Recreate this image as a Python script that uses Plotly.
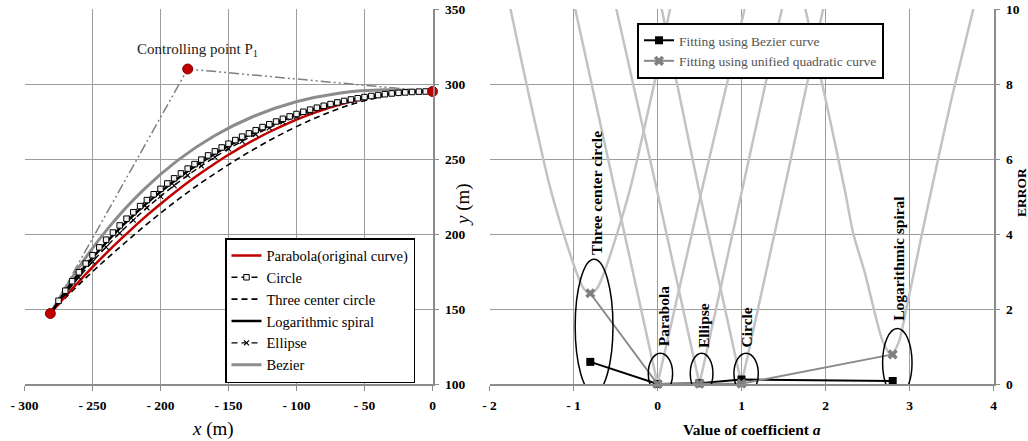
import plotly.graph_objects as go

W, H = 1028, 441

# ---------------- Left panel data (x in m, y in m) ----------------
x_main = [-281, -270, -260, -250, -240, -230, -220, -210, -200, -190, -180, -170, -160, -150,
          -140, -130, -120, -110, -100, -90, -80, -70, -60, -50, -40, -30, -20, -10, 0]
y_parabola = [147.0, 158.4, 168.3, 177.9, 187.1, 195.9, 204.3, 212.4, 220.0, 227.3, 234.3, 240.8, 247.0, 252.8,
              258.3, 263.3, 268.0, 272.3, 276.3, 279.8, 283.0, 285.8, 288.3, 290.3, 292.0, 293.3, 294.3, 294.8, 295.0]
y_three_center = [147.0, 157.4, 166.3, 174.9, 183.1, 191.1, 198.9, 206.6, 213.9, 221.0, 227.8, 234.2, 240.3, 246.2,
                  251.9, 257.2, 262.3, 267.1, 271.6, 275.8, 279.7, 283.2, 286.3, 288.9, 291.1, 292.8, 294.1, 294.7, 295.0]
y_log_spiral = [147.0, 161.3, 173.1, 184.1, 194.2, 203.7, 212.4, 220.6, 228.1, 235.2, 241.8, 247.9, 253.6, 258.8,
                263.7, 268.1, 272.2, 275.9, 279.3, 282.3, 285.0, 287.4, 289.4, 291.1, 292.5, 293.6, 294.4, 294.9, 295.0]
y_ellipse = [147.0, 160.0, 171.1, 181.5, 191.3, 200.6, 209.3, 217.5, 225.1, 232.3, 239.1, 245.4, 251.3, 256.8,
             261.8, 266.5, 270.8, 274.7, 278.3, 281.5, 284.4, 286.9, 289.0, 290.9, 292.4, 293.5, 294.3, 294.8, 295.0]

x_circle = [-281, -275, -270, -265, -260, -255, -250, -245, -240, -235, -230, -225, -220, -215, -210, -205,
            -200, -195, -190, -185, -180, -175, -170, -165, -160, -155, -150, -145, -140, -135, -130, -125,
            -120, -115, -110, -105, -100, -95, -90, -85, -80, -75, -70, -65, -60, -55, -50, -45, -40, -35,
            -30, -25, -20, -15, -10, -5, 0]
y_circle = [147.0, 155.5, 162.2, 168.5, 174.5, 180.3, 185.8, 191.1, 196.2, 201.0, 205.7, 210.2, 214.5, 218.6,
            222.6, 226.5, 230.1, 233.7, 237.1, 240.4, 243.6, 246.6, 249.6, 252.4, 255.1, 257.7, 260.2, 262.6,
            264.9, 267.1, 269.2, 271.3, 273.2, 275.0, 276.8, 278.4, 280.0, 281.5, 282.9, 284.2, 285.5, 286.6,
            287.7, 288.7, 289.7, 290.5, 291.3, 292.0, 292.6, 293.2, 293.7, 294.1, 294.4, 294.7, 294.9, 295.0, 295.0]

x_bezier = [-281, -260.0, -237.4, -213.3, -187.6, -160.3, -131.4, -100.9, -68.8, -35.2, 0]
y_bezier = [147.0, 177.8, 205.1, 228.8, 248.9, 265.5, 278.5, 288.0, 293.9, 296.2, 295.0]

ctrl_x = [-281, -180, 0]
ctrl_y = [147, 310, 295]

left_xticks = [-300, -250, -200, -150, -100, -50, 0]
left_xtext = ["- 300", "- 250", "- 200", "- 150", "- 100", "- 50", "0"]
left_yticks = [100, 150, 200, 250, 300, 350]

# ---------------- Right panel data (coefficient a, ERROR) ----------------
coef = [-0.8, 0.0, 0.5, 1.0, 2.8]
err_bezier = [0.59, 0.0, 0.02, 0.12, 0.08]
err_unified = [2.42, 0.0, 0.01, 0.01, 0.79]

tc_a = [-1.81, -1.75, -1.56, -1.36, -1.27, -1.12, -0.96, -0.88, -0.80, -0.72, -0.64, -0.48, -0.33, -0.24, -0.04, 0.15, 0.21]
tc_e = [10.6, 10.0, 8.0, 6.0, 5.17, 4.02, 2.95, 2.55, 2.42, 2.55, 2.95, 4.02, 5.17, 6.0, 8.0, 10.0, 10.6]
pa_a = [-1.04, -0.98, -0.50, 0.0, 0.52, 1.04, 1.10]
pa_e = [10.6, 10.0, 5.1, 0.0, 5.1, 10.0, 10.6]
el_a = [-0.55, -0.49, 0.0, 0.5, 1.0, 1.48, 1.54]
el_e = [10.6, 10.0, 5.1, 0.0, 5.1, 10.0, 10.6]
ci_a = [-0.01, 0.05, 0.50, 1.0, 1.50, 1.97, 2.03]
ci_e = [10.6, 10.0, 5.1, 0.0, 5.1, 10.0, 10.6]
ls_a = [1.70, 1.76, 2.00, 2.23, 2.33, 2.47, 2.59, 2.68, 2.78, 2.87, 2.95, 3.05, 3.15, 3.26, 3.50, 3.76, 3.82]
ls_e = [10.6, 10.0, 7.6, 5.17, 4.02, 2.95, 1.87, 1.15, 0.79, 1.10, 1.87, 2.95, 4.02, 5.17, 7.6, 10.0, 10.6]

right_xticks = [-2, -1, 0, 1, 2, 3, 4]
right_xtext = ["- 2", "- 1", "0", "1", "2", "3", "4"]

SERIF = "Liberation Serif"
RED = "#c00000"

fig = go.Figure()

# ---- left panel traces ----
fig.add_trace(go.Scatter(x=ctrl_x, y=ctrl_y, mode="lines", showlegend=False,
                         line=dict(color="#7f7f7f", width=1.5, dash="10px,3px,2px,3px,2px,3px"),
                         xaxis="x", yaxis="y", hoverinfo="skip"))
fig.add_trace(go.Scatter(x=x_bezier, y=y_bezier, mode="lines", name="Bezier", legend="legend",
                         line=dict(color="#8c8c8c", width=3, shape="spline"), xaxis="x", yaxis="y",
                         legendrank=6))
fig.add_trace(go.Scatter(x=x_main, y=y_three_center, mode="lines", name="Three center circle", legend="legend",
                         line=dict(color="black", width=1.6, dash="6px,4px", shape="spline"), xaxis="x", yaxis="y",
                         legendrank=3))
fig.add_trace(go.Scatter(x=x_main, y=y_parabola, mode="lines", name="Parabola(original curve)", legend="legend",
                         line=dict(color=RED, width=2.5, shape="spline"), xaxis="x", yaxis="y", legendrank=1))
fig.add_trace(go.Scatter(x=x_main, y=y_ellipse, mode="lines+markers", name="Ellipse", legend="legend",
                         line=dict(color="black", width=1.4, dash="6px,4px", shape="spline"),
                         marker=dict(symbol="x-thin-open", size=5, color="black", line=dict(width=1.2, color="black")),
                         xaxis="x", yaxis="y", legendrank=5))
fig.add_trace(go.Scatter(x=x_main, y=y_log_spiral, mode="lines", name="Logarithmic spiral", legend="legend",
                         line=dict(color="black", width=2.5, shape="spline"), xaxis="x", yaxis="y", legendrank=4))
fig.add_trace(go.Scatter(x=x_circle, y=y_circle, mode="lines+markers", name="Circle", legend="legend",
                         line=dict(color="black", width=1.4, dash="6px,4px", shape="spline"),
                         marker=dict(symbol="square", size=5.5, color="#f2f2f2", line=dict(width=1, color="black")),
                         xaxis="x", yaxis="y", legendrank=2))
fig.add_trace(go.Scatter(x=ctrl_x, y=ctrl_y, mode="markers", showlegend=False,
                         marker=dict(symbol="circle", size=10, color=RED, line=dict(width=1, color="#8b0000")),
                         xaxis="x", yaxis="y", cliponaxis=False, hoverinfo="skip"))

# ---- right panel traces ----
for aa, ee in [(tc_a, tc_e), (ls_a, ls_e)]:
    fig.add_trace(go.Scatter(x=aa, y=ee, mode="lines", showlegend=False,
                             line=dict(color="#c3c3c3", width=2.5, shape="spline", smoothing=0.8),
                             xaxis="x2", yaxis="y2", hoverinfo="skip"))
for aa, ee in [(pa_a, pa_e), (el_a, el_e), (ci_a, ci_e)]:
    fig.add_trace(go.Scatter(x=aa, y=ee, mode="lines", showlegend=False,
                             line=dict(color="#c3c3c3", width=2.5),
                             xaxis="x2", yaxis="y2", hoverinfo="skip"))

fig.add_trace(go.Scatter(x=coef, y=err_bezier, mode="lines+markers", name="Fitting using Bezier curve",
                         legend="legend2", line=dict(color="black", width=2),
                         marker=dict(symbol="square", size=8, color="black"),
                         xaxis="x2", yaxis="y2", cliponaxis=False))
fig.add_trace(go.Scatter(x=coef, y=err_unified, mode="lines+markers", name="Fitting using unified quadratic curve",
                         legend="legend2", line=dict(color="#8a8a8a", width=2),
                         marker=dict(symbol="x", size=9, color="#808080", line=dict(width=0)),
                         xaxis="x2", yaxis="y2", cliponaxis=False))

# ---- shapes (ellipses around the minima) ----
ellipses = [(-0.98, -0.53, -0.25, 3.33), (-0.11, 0.18, -0.27, 0.82), (0.39, 0.66, -0.27, 0.82),
            (0.91, 1.20, -0.27, 0.82), (2.68, 3.03, -0.34, 1.48)]
shapes = []
for x0, x1, y0, y1 in ellipses:
    shapes.append(dict(type="circle", xref="x2", yref="y2", x0=x0, x1=x1, y0=y0, y1=y1,
                       line=dict(color="black", width=1.5)))

# ---- annotations ----
def px_x(p):
    return p / W

def px_y(p):
    return 1 - p / H

ann = []
ann.append(dict(text="Controlling point P<sub>1</sub>", x=-173, y=323, xref="x", yref="y", showarrow=False,
                xanchor="center", yanchor="middle",
                font=dict(family=SERIF, size=15, color="#222222")))
ann.append(dict(text="<i>x</i> (m)", x=px_x(213), y=px_y(429), xref="paper", yref="paper", showarrow=False,
                xanchor="center", yanchor="middle",
                font=dict(family=SERIF, size=19, color="black")))
ann.append(dict(text="<i>y</i> (m)", x=px_x(463), y=px_y(205), xref="paper", yref="paper", showarrow=False,
                xanchor="center", yanchor="middle",
                textangle=-90, font=dict(family=SERIF, size=19, color="black")))
ann.append(dict(text="<b>Value of coefficient <i>a</i></b>", x=px_x(752), y=px_y(429), xref="paper", yref="paper",
                xanchor="center", yanchor="middle",
                showarrow=False, font=dict(family=SERIF, size=15.5, color="black")))
ann.append(dict(text="<b>ERROR</b>", x=px_x(1021), y=px_y(193), xref="paper", yref="paper", showarrow=False,
                xanchor="center", yanchor="middle",
                textangle=-90, font=dict(family=SERIF, size=13.5, color="black")))

labels = [("Three center circle", -0.72, 3.39), ("Parabola", 0.07, 0.95), ("Ellipse", 0.55, 0.91),
          ("Circle", 1.06, 0.91), ("Logarithmic spiral", 2.875, 1.62)]
for t, xa, ya in labels:
    ann.append(dict(text="<b>" + t + "</b>", x=xa, y=ya, xref="x2", yref="y2", showarrow=False,
                    textangle=-90, xanchor="center", yanchor="bottom",
                    font=dict(family=SERIF, size=15.5, color="black")))

axis_common = dict(showgrid=True, gridcolor="#9c9c9c", gridwidth=1, showline=True, linecolor="#8c8c8c",
                   linewidth=1.5, ticks="outside", ticklen=5, tickcolor="#8c8c8c", zeroline=False,
                   automargin=False,
                   tickfont=dict(family=SERIF, size=13.5, color="black", weight="bold"))

fig.update_layout(
    width=W, height=H, autosize=False,
    margin=dict(l=0, r=0, t=0, b=0, pad=0),
    paper_bgcolor="white", plot_bgcolor="white",
    xaxis=dict(domain=[24.5 / W, 432.5 / W], range=[-300, 0], tickvals=left_xticks, ticktext=left_xtext,
               anchor="y", ticklabelstandoff=3, **axis_common),
    yaxis=dict(domain=[57 / H, 432 / H], range=[100, 350], tickvals=left_yticks, side="right", anchor="x",
               ticklabelstandoff=3, **axis_common),
    xaxis2=dict(domain=[489.5 / W, 993.5 / W], range=[-2, 4], tickvals=right_xticks, ticktext=right_xtext,
                anchor="y2", ticklabelstandoff=3, **axis_common),
    yaxis2=dict(domain=[57 / H, 432 / H], range=[0, 10], dtick=2, side="right", anchor="x2",
                ticklabelstandoff=3, **axis_common),
    legend=dict(x=225 / W, y=1 - 238 / H, xanchor="left", yanchor="top", bgcolor="white",
                bordercolor="black", borderwidth=1.5, font=dict(family=SERIF, size=14.5, color="black"),
                itemwidth=30, tracegroupgap=0),
    legend2=dict(x=637 / W, y=1 - 23 / H, xanchor="left", yanchor="top", bgcolor="white",
                 bordercolor="black", borderwidth=2, font=dict(family=SERIF, size=13.5, color="#555555"),
                 itemwidth=30),
    shapes=shapes,
    annotations=ann,
    showlegend=True,
)

fig.write_html("out.html")
